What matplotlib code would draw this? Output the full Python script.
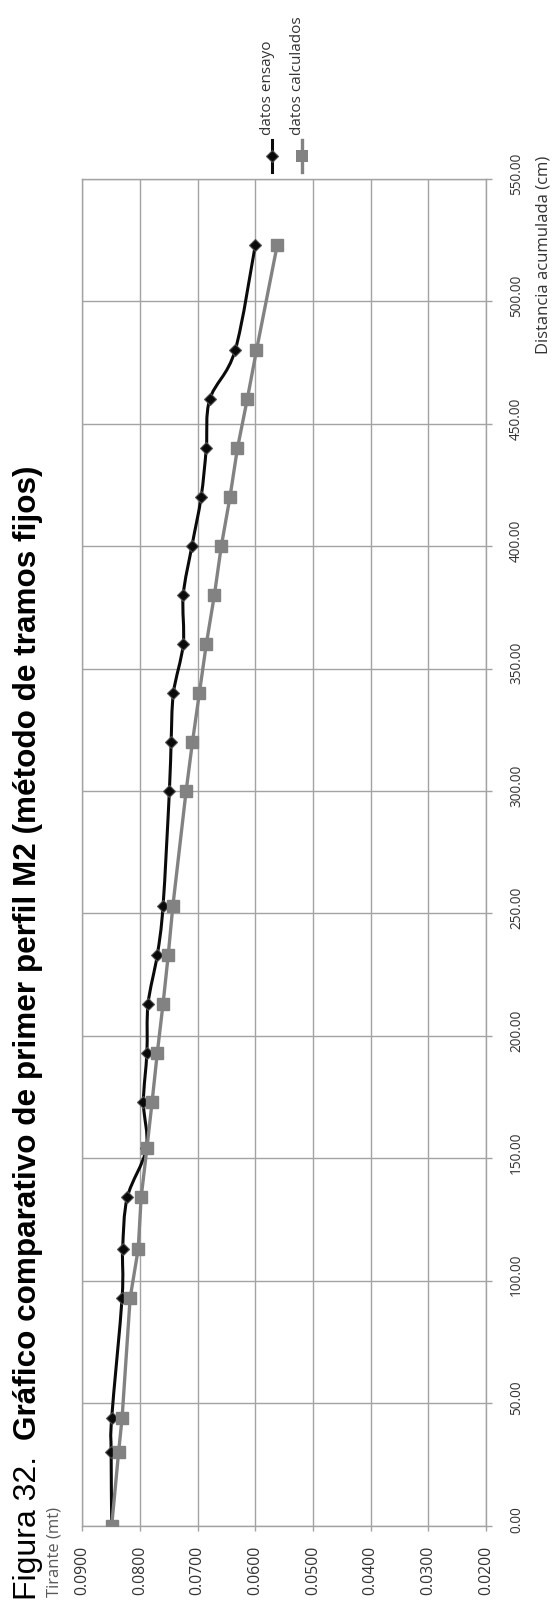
import numpy as np
import matplotlib
matplotlib.use("Agg")
import matplotlib.pyplot as plt
from matplotlib.path import Path
from matplotlib.patches import PathPatch
from matplotlib.lines import Line2D
from matplotlib.ticker import FormatStrFormatter, MultipleLocator
from matplotlib.transforms import ScaledTranslation

# Accumulated distance along the channel (cm)
distancia = [0, 30, 44, 93, 113, 134, 154, 173, 193, 213, 233, 253,
             300, 320, 340, 360, 380, 400, 420, 440, 460, 480, 523]

# Measured water depth (m)
tirante_ensayo = [0.0849, 0.0850, 0.0849, 0.0831, 0.0830, 0.0822, 0.0789,
                  0.0794, 0.0788, 0.0786, 0.0770, 0.0760, 0.0749, 0.0746,
                  0.0742, 0.0725, 0.0725, 0.0710, 0.0694, 0.0685, 0.0679,
                  0.0635, 0.0600]

# Computed water depth, fixed-step method (m)
tirante_calculado = [0.0849, 0.0837, 0.0831, 0.0817, 0.0803, 0.0798, 0.0788,
                     0.0779, 0.0770, 0.0760, 0.0751, 0.0743, 0.0720, 0.0709,
                     0.0697, 0.0685, 0.0671, 0.0659, 0.0644, 0.0631, 0.0614,
                     0.0598, 0.0562]

serie_nombres = ["datos ensayo", "datos calculados"]

W, H = 554, 1606
fig = plt.figure(figsize=(W / 100, H / 100), dpi=100)
fig.patch.set_facecolor("white")

def fx(px):
    return px / W

def fy(py):
    return 1 - py / H

ax_left, ax_right, ax_top, ax_bottom = 82.3, 486.0, 180.0, 1526.5
ax = fig.add_axes([fx(ax_left), fy(ax_bottom),
                   (ax_right - ax_left) / W, (ax_bottom - ax_top) / H])

GRID = "#a3a3a3"
TXT = "#333333"
LABEL_FONT = "Open Sans"

ax.set_xlim(0.09, 0.02)
ax.set_ylim(0, 550)
ax.xaxis.set_major_locator(MultipleLocator(0.01))
ax.yaxis.set_major_locator(MultipleLocator(50))
ax.xaxis.set_major_formatter(FormatStrFormatter("%.4f"))
ax.yaxis.set_major_formatter(FormatStrFormatter("%.2f"))
ax.yaxis.tick_right()
ax.grid(True, color=GRID, linewidth=1.0)
ax.set_axisbelow(True)
for s in ax.spines.values():
    s.set_color(GRID)
    s.set_linewidth(1.0)
ax.tick_params(axis="both", color=GRID, width=1.0, labelcolor=TXT)
ax.tick_params(axis="x", length=3.5, pad=10.5, labelsize=11.4)
ax.tick_params(axis="y", length=4.2, pad=12.5, labelsize=9.8)

# make sure all tick objects exist before styling them
ax.xaxis.get_major_ticks(len(ax.get_xticks()))
ax.yaxis.get_major_ticks(len(ax.get_yticks()))
shift_up = ScaledTranslation(0, 6.5 / 100, fig.dpi_scale_trans)
for t in ax.xaxis.get_major_ticks():
    t.label1.set_rotation(90)
    t.label1.set_family(LABEL_FONT)
for t in ax.yaxis.get_major_ticks():
    t.label2.set_rotation(90)
    t.label2.set_family(LABEL_FONT)
    t.label2.set_verticalalignment("center")
    t.label2.set_transform(t.label2.get_transform() + shift_up)


def smooth_path(xs, ys):
    # Catmull-Rom spline expressed as cubic Bezier segments
    pts = np.column_stack([xs, ys]).astype(float)
    n = len(pts)
    verts = [pts[0]]
    codes = [Path.MOVETO]
    for i in range(n - 1):
        p0 = pts[i - 1] if i > 0 else pts[i]
        p1 = pts[i]
        p2 = pts[i + 1]
        p3 = pts[i + 2] if i + 2 < n else pts[i + 1]
        c1 = p1 + (p2 - p0) / 6.0
        c2 = p2 - (p3 - p1) / 6.0
        verts += [c1, c2, p2]
        codes += [Path.CURVE4] * 3
    return Path(verts, codes)


# measured series: smoothed black line with diamond markers
ax.add_patch(PathPatch(smooth_path(tirante_ensayo, distancia), facecolor="none",
                       edgecolor="#0a0a0a", linewidth=2.2, zorder=3,
                       capstyle="round", joinstyle="round"))
ax.plot(tirante_ensayo, distancia, linestyle="none", marker="D", markersize=6.3,
        markerfacecolor="#0a0a0a", markeredgecolor="#505050",
        markeredgewidth=0.8, zorder=4)

# computed series: grey line with square markers
ax.plot(tirante_calculado, distancia, color="#828282", linewidth=2.4,
        marker="s", markersize=9.3, markerfacecolor="#828282",
        markeredgecolor="#828282", zorder=5)

# axis titles
fig.text(fx(551), fy(156), "Distancia acumulada (cm)", rotation=90,
         ha="right", va="top", fontsize=12, color=TXT, family=LABEL_FONT)
fig.text(fx(62.5), fy(1597), "Tirante (mt)", rotation=90,
         ha="right", va="bottom", fontsize=12, color="#595959",
         family=LABEL_FONT)

# legend, drawn vertically above the plot
leg_x = [271.7, 301.7]
leg_styles = [
    dict(color="#0a0a0a", lw=2.2, marker="D", ms=6.3, mfc="#0a0a0a",
         mec="#505050", mew=0.8),
    dict(color="#828282", lw=2.4, marker="s", ms=9.3, mfc="#828282",
         mec="#828282", mew=0.0),
]
for xpix, name, st in zip(leg_x, serie_nombres, leg_styles):
    fig.add_artist(Line2D([fx(xpix), fx(xpix)], [fy(173), fy(141)],
                          color=st["color"], lw=st["lw"],
                          transform=fig.transFigure))
    fig.add_artist(Line2D([fx(xpix)], [fy(157)], linestyle="none",
                          marker=st["marker"], ms=st["ms"], mfc=st["mfc"],
                          mec=st["mec"], mew=st["mew"],
                          transform=fig.transFigure))
    fig.text(fx(xpix - 1), fy(135), name, rotation=90, rotation_mode="anchor",
             ha="left", va="baseline", fontsize=11, color=TXT,
             family=LABEL_FONT)

# figure caption: regular prefix followed by bold title
TITLE_FONT = "Liberation Sans"
title_base_x = 36.0
t1 = fig.text(fx(title_base_x), fy(1600), "Figura 32.", rotation=90,
              rotation_mode="anchor", ha="left", va="baseline",
              fontsize=23, color="black", family=TITLE_FONT)
fig.canvas.draw()
bb = t1.get_window_extent(renderer=fig.canvas.get_renderer())
start_y = 1600 - bb.height - 16
fig.text(fx(title_base_x), fy(start_y),
         "Gráfico comparativo de primer perfil M2 (método de tramos fijos)",
         rotation=90, rotation_mode="anchor", ha="left", va="baseline",
         fontsize=22.7, fontweight="bold", color="black", family=TITLE_FONT)

fig.savefig("out.png", dpi=100, facecolor="white")
